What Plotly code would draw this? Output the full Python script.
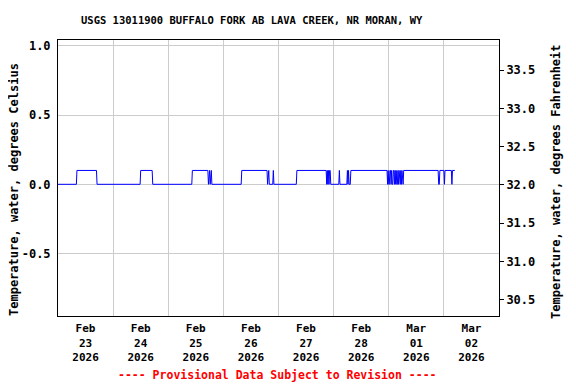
import plotly.graph_objects as go

# Data: change points of the 15-minute temperature record (deg C)
times = [
    "2026-02-23 00:00", "2026-02-23 08:00", "2026-02-23 08:15", "2026-02-23 16:45", "2026-02-23 17:00",
    "2026-02-24 11:45", "2026-02-24 12:00", "2026-02-24 17:00", "2026-02-24 17:15",
    "2026-02-25 10:15", "2026-02-25 10:30", "2026-02-25 17:15", "2026-02-25 17:30", "2026-02-25 17:45",
    "2026-02-25 18:00", "2026-02-25 18:15", "2026-02-25 18:30", "2026-02-25 18:45", "2026-02-25 19:00",
    "2026-02-26 07:45", "2026-02-26 08:00", "2026-02-26 19:00", "2026-02-26 19:15", "2026-02-26 19:30",
    "2026-02-26 19:45", "2026-02-26 20:00", "2026-02-26 21:30", "2026-02-26 21:45", "2026-02-26 22:00",
    "2026-02-27 07:45", "2026-02-27 08:00", "2026-02-27 20:45", "2026-02-27 21:00", "2026-02-27 21:15",
    "2026-02-27 21:30", "2026-02-27 21:45", "2026-02-27 22:00", "2026-02-27 22:15", "2026-02-27 22:30",
    "2026-02-27 22:45",
    "2026-02-28 02:15", "2026-02-28 02:30", "2026-02-28 02:45",
    "2026-02-28 05:45", "2026-02-28 06:00", "2026-02-28 06:15", "2026-02-28 06:30", "2026-02-28 06:45",
    "2026-02-28 07:15", "2026-02-28 07:30", "2026-02-28 23:15", "2026-02-28 23:30", "2026-02-28 23:45",
    "2026-03-01 00:00", "2026-03-01 00:15", "2026-03-01 00:30", "2026-03-01 00:45", "2026-03-01 01:00",
    "2026-03-01 01:15", "2026-03-01 01:30", "2026-03-01 01:45", "2026-03-01 02:00", "2026-03-01 02:15",
    "2026-03-01 02:30", "2026-03-01 02:45", "2026-03-01 03:00", "2026-03-01 03:15", "2026-03-01 03:30",
    "2026-03-01 03:45", "2026-03-01 04:00", "2026-03-01 04:15", "2026-03-01 04:30", "2026-03-01 04:45",
    "2026-03-01 05:00", "2026-03-01 05:15", "2026-03-01 05:30", "2026-03-01 05:45", "2026-03-01 06:00",
    "2026-03-01 06:15", "2026-03-01 06:30", "2026-03-01 21:30", "2026-03-01 21:45", "2026-03-01 22:00",
    "2026-03-01 22:15", "2026-03-02 00:00", "2026-03-02 00:15", "2026-03-02 00:30", "2026-03-02 03:15",
    "2026-03-02 03:30", "2026-03-02 03:45", "2026-03-02 04:45",
]
temp_c = [
    0.0, 0.0, 0.1, 0.1, 0.0,
    0.0, 0.1, 0.1, 0.0,
    0.0, 0.1, 0.1, 0.0, 0.1,
    0.1, 0.0, 0.1, 0.1, 0.0,
    0.0, 0.1, 0.1, 0.0, 0.1,
    0.1, 0.0, 0.0, 0.1, 0.0,
    0.0, 0.1, 0.1, 0.0, 0.1,
    0.0, 0.1, 0.0, 0.1, 0.1,
    0.0,
    0.0, 0.1, 0.0,
    0.0, 0.1, 0.0, 0.1, 0.0,
    0.0, 0.1, 0.1, 0.0, 0.1,
    0.0, 0.0, 0.1, 0.1, 0.0,
    0.1, 0.0, 0.0, 0.1, 0.1,
    0.0, 0.1, 0.0, 0.1, 0.0,
    0.0, 0.1, 0.0, 0.1, 0.0,
    0.0, 0.1, 0.0, 0.1, 0.0,
    0.0, 0.1, 0.1, 0.0, 0.0,
    0.1, 0.1, 0.0, 0.1, 0.1,
    0.0, 0.1, 0.1,
]

x_tick_vals = ["2026-02-23 12:00", "2026-02-24 12:00", "2026-02-25 12:00", "2026-02-26 12:00",
               "2026-02-27 12:00", "2026-02-28 12:00", "2026-03-01 12:00", "2026-03-02 12:00"]
x_tick_text = ["Feb<br>23<br>2026", "Feb<br>24<br>2026", "Feb<br>25<br>2026", "Feb<br>26<br>2026",
               "Feb<br>27<br>2026", "Feb<br>28<br>2026", "Mar<br>01<br>2026", "Mar<br>02<br>2026"]
y_tick_vals = [-0.5, 0.0, 0.5, 1.0]
y_tick_text = ["-0.5", "0.0", "0.5", "1.0"]
y2_tick_vals = [30.5, 31.0, 31.5, 32.0, 32.5, 33.0, 33.5]
y2_tick_text = ["30.5", "31.0", "31.5", "32.0", "32.5", "33.0", "33.5"]

FONT = "DejaVu Sans Mono"
tf = dict(family=FONT, size=12, color="black", weight="bold")

fig = go.Figure()
fig.add_trace(go.Scatter(x=times, y=temp_c, mode="lines",
                         line=dict(color="#0000ff", width=1), showlegend=False,
                         hoverinfo="skip"))
# invisible trace to activate right axis
fig.add_trace(go.Scatter(x=[times[0]], y=[32.0], yaxis="y2", mode="markers",
                         marker=dict(opacity=0), showlegend=False, hoverinfo="skip"))

fig.update_layout(
    width=576, height=384,
    margin=dict(l=50, r=85, t=32, b=76, autoexpand=False),
    paper_bgcolor="white", plot_bgcolor="white",
    xaxis=dict(
        range=["2026-02-23 00:00", "2026-03-03 00:00"],
        tickmode="array", tickvals=x_tick_vals, ticktext=x_tick_text,
        showgrid=False, ticks="", ticklabelstandoff=2,
        tickfont=dict(family=FONT, size=11, color="black", weight="bold"),
        minor=dict(tick0="2026-02-23", dtick=86400000, showgrid=True,
                   gridcolor="#cccccc", gridwidth=1, ticks=""),
        showline=True, linecolor="black", linewidth=1, mirror=True, zeroline=False,
    ),
    yaxis=dict(
        range=[-0.950, 1.041], tickmode="array", tickvals=y_tick_vals, ticktext=y_tick_text,
        showgrid=True, gridcolor="#cccccc", gridwidth=1, ticks="", ticklabelstandoff=4,
        tickfont=tf, zeroline=False,
        showline=True, linecolor="black", linewidth=1, mirror=True,
    ),
    yaxis2=dict(
        range=[30.285, 33.895], overlaying="y", side="right",
        tickmode="array", tickvals=y2_tick_vals, ticktext=y2_tick_text,
        showgrid=False, ticks="outside", ticklen=4, tickcolor="black",
        tickfont=tf, zeroline=False, showline=False,
    ),
    annotations=[
        dict(text="USGS 13011900 BUFFALO FORK AB LAVA CREEK, NR MORAN, WY",
             xref="paper", yref="paper", x=0.4388, y=1.0, yshift=20,
             showarrow=False, font=dict(family=FONT, size=10.5, color="black", weight="bold"),
             xanchor="center", yanchor="middle"),
        dict(text="Temperature, water, degrees Celsius", textangle=-90,
             xref="paper", yref="paper", x=0, xshift=-44, y=0.5, yshift=-12,
             showarrow=False, font=tf, xanchor="center", yanchor="middle"),
        dict(text="Temperature, water, degrees Fahrenheit", textangle=-90,
             xref="paper", yref="paper", x=1, xshift=57, y=0.5, yshift=-4,
             showarrow=False, font=tf, xanchor="center", yanchor="middle"),
        dict(text="---- Provisional Data Subject to Revision ----",
             xref="paper", yref="paper", x=0.4977, y=0, yshift=-59,
             showarrow=False, font=dict(family=FONT, size=11.5, color="red", weight="bold"),
             xanchor="center", yanchor="middle"),
    ],
)

fig.write_html("out.html")
